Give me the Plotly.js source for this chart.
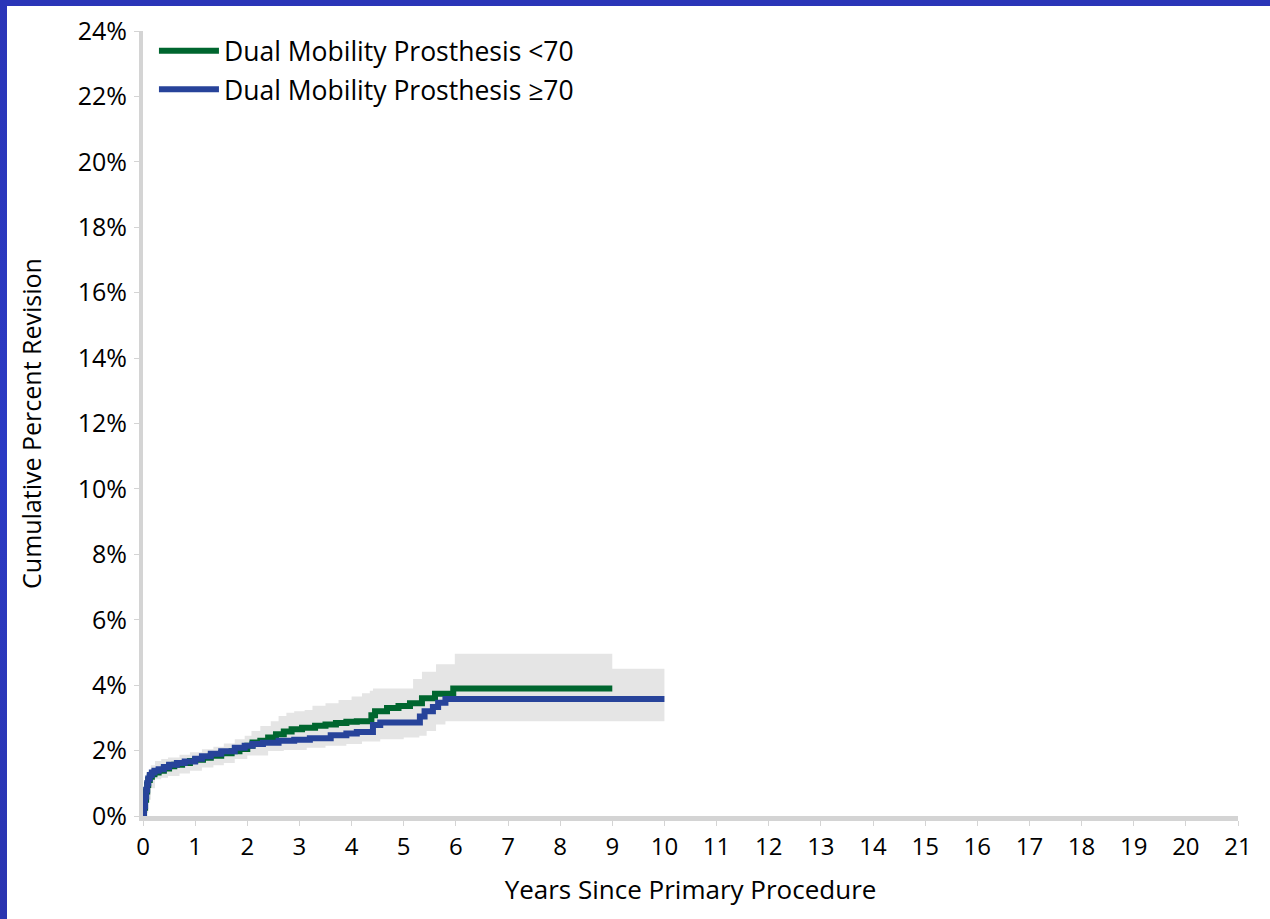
<!DOCTYPE html>
<html>
<head>
<meta charset="utf-8">
<script src="https://cdn.plot.ly/plotly-3.0.1.min.js"></script>
<style>
  html, body { margin: 0; padding: 0; width: 1270px; height: 919px; overflow: hidden;
    background: linear-gradient(180deg, #2a35b8 0%, #2b3ac4 50%, #2a34b0 100%); }
  #chart { position: absolute; left: 7px; top: 6px; width: 1263px; height: 913px; background: #fff; }
</style>
</head>
<body>
<div id="chart"></div>
<script>
// ---- Data ----
const seriesNames = ["Dual Mobility Prosthesis <70", "Dual Mobility Prosthesis \u226570"];

const under70Years = [0, 0.02, 0.04, 0.06, 0.08, 0.1, 0.13, 0.17, 0.22, 0.3, 0.4, 0.5, 0.6, 0.75, 0.9, 1.0, 1.15, 1.3, 1.5, 1.7, 1.85, 2.0, 2.1, 2.25, 2.4, 2.55, 2.7, 2.85, 3.05, 3.3, 3.5, 3.7, 3.9, 4.1, 4.38, 4.45, 4.68, 4.9, 5.12, 5.35, 5.6, 5.95, 9.0];
const under70Pct   = [0, 0.25, 0.5, 0.75, 0.95, 1.1, 1.2, 1.28, 1.33, 1.38, 1.45, 1.52, 1.57, 1.62, 1.68, 1.72, 1.78, 1.84, 1.92, 1.98, 2.05, 2.15, 2.25, 2.3, 2.4, 2.5, 2.58, 2.65, 2.7, 2.76, 2.8, 2.84, 2.88, 2.9, 3.08, 3.2, 3.3, 3.36, 3.45, 3.6, 3.74, 3.9, 3.9];

const over70Years = [0, 0.02, 0.04, 0.06, 0.08, 0.1, 0.13, 0.17, 0.22, 0.3, 0.4, 0.5, 0.65, 0.8, 1.0, 1.13, 1.3, 1.5, 1.76, 1.95, 2.1, 2.3, 2.6, 2.9, 3.2, 3.6, 3.9, 4.1, 4.41, 4.55, 5.31, 5.4, 5.56, 5.66, 5.8, 10.0];
const over70Pct   = [0, 0.3, 0.6, 0.8, 1.0, 1.15, 1.25, 1.33, 1.38, 1.43, 1.5, 1.57, 1.62, 1.67, 1.75, 1.83, 1.9, 1.98, 2.09, 2.15, 2.2, 2.24, 2.3, 2.33, 2.38, 2.47, 2.52, 2.57, 2.78, 2.86, 3.04, 3.2, 3.33, 3.46, 3.58, 3.58];

// 95% confidence band (union of both groups)
const ciUpperYears = [0, 0.05, 0.1, 0.15, 0.23, 0.35, 0.48, 0.7, 0.9, 1.13, 1.35, 1.55, 1.76, 1.95, 2.08, 2.25, 2.45, 2.6, 2.75, 2.9, 3.1, 3.25, 3.5, 3.75, 4.0, 4.2, 4.35, 4.41, 5.18, 5.35, 5.62, 5.98, 9.0, 10.0];
const ciUpperPct   = [0, 0.7, 1.3, 1.55, 1.68, 1.74, 1.79, 1.87, 1.95, 2.04, 2.12, 2.22, 2.35, 2.45, 2.6, 2.75, 2.9, 3.06, 3.16, 3.2, 3.24, 3.37, 3.45, 3.55, 3.65, 3.75, 3.83, 3.9, 4.19, 4.41, 4.64, 4.96, 4.5, 4.5];
const ciLowerYears = [0, 0.05, 0.1, 0.15, 0.23, 0.35, 0.48, 0.7, 0.9, 1.13, 1.35, 1.55, 1.76, 2.0, 2.4, 2.7, 3.14, 3.5, 3.9, 4.2, 4.55, 5.0, 5.3, 5.44, 5.62, 5.8, 10.0];
const ciLowerPct   = [0, 0.1, 0.5, 0.85, 1.12, 1.17, 1.22, 1.3, 1.38, 1.48, 1.55, 1.62, 1.74, 1.85, 1.99, 2.02, 2.09, 2.15, 2.2, 2.28, 2.35, 2.4, 2.45, 2.6, 2.8, 2.9, 2.9];

const xTickVals = Array.from({length: 22}, (_, i) => i);
const yTickVals = [0, 2, 4, 6, 8, 10, 12, 14, 16, 18, 20, 22, 24];
const yTickText = yTickVals.map(v => v + "%");

// ---- Build step polygon for the band ----
function stepExpand(xs, ys) {
  const ox = [], oy = [];
  for (let i = 0; i < xs.length; i++) {
    if (i > 0) { ox.push(xs[i]); oy.push(ys[i - 1]); }
    ox.push(xs[i]); oy.push(ys[i]);
  }
  return [ox, oy];
}
const [ux, uy] = stepExpand(ciUpperYears, ciUpperPct);
const [lx, ly] = stepExpand(ciLowerYears, ciLowerPct);
const bandX = ux.concat(lx.slice().reverse());
const bandY = uy.concat(ly.slice().reverse());

const GREEN = "#00662f";
const BLUE = "#27439a";

const traces = [
  { x: bandX, y: bandY, type: "scatter", mode: "lines", fill: "toself",
    fillcolor: "#e5e5e5", line: { width: 0, color: "#e5e5e5" }, showlegend: false, hoverinfo: "skip" },
  { x: under70Years, y: under70Pct, type: "scatter", mode: "lines", name: seriesNames[0],
    line: { color: GREEN, width: 6, shape: "hv" }, legendgroup: "a" },
  { x: over70Years, y: over70Pct, type: "scatter", mode: "lines", name: seriesNames[1],
    line: { color: BLUE, width: 6, shape: "hv" }, legendgroup: "b" }
];

const FONT = "'Open Sans', 'Noto Sans', sans-serif";

const layout = {
  width: 1263, height: 913,
  paper_bgcolor: "#ffffff", plot_bgcolor: "#ffffff",
  margin: { l: 136, r: 32, t: 25, b: 103 },
  font: { family: FONT, color: "#000", size: 24 },
  showlegend: true,
  legend: { x: 0.01, y: 1.005, xanchor: "left", yanchor: "top", bgcolor: "rgba(0,0,0,0)",
    font: { family: FONT, size: 26.5, color: "#000" }, tracegroupgap: 1, itemwidth: 60 },
  xaxis: {
    range: [0, 21], tickvals: xTickVals, ticktext: xTickVals.map(String),
    showgrid: false, zeroline: false, showline: true, linecolor: "#d4d4d4", linewidth: 5,
    ticks: "outside", ticklen: 5, tickcolor: "#d4d4d4", tickwidth: 1, ticklabelstandoff: 0,
    tickfont: { family: FONT, size: 24, color: "#000" },
    title: { text: "Years Since Primary Procedure", font: { family: FONT, size: 26, color: "#000" }, standoff: 22 }
  },
  yaxis: {
    range: [0, 24], tickvals: yTickVals, ticktext: yTickText,
    showgrid: false, zeroline: false, showline: true, linecolor: "#d4d4d4", linewidth: 4,
    ticks: "outside", ticklen: 5, tickcolor: "#d4d4d4", tickwidth: 1, ticklabelstandoff: 2,
    tickfont: { family: FONT, size: 25, color: "#000" },
    title: { text: "Cumulative Percent Revision", font: { family: FONT, size: 25, color: "#000" }, standoff: 30 }
  }
};

Plotly.newPlot("chart", traces, layout, { displayModeBar: false, responsive: false });
</script>
</body>
</html>
